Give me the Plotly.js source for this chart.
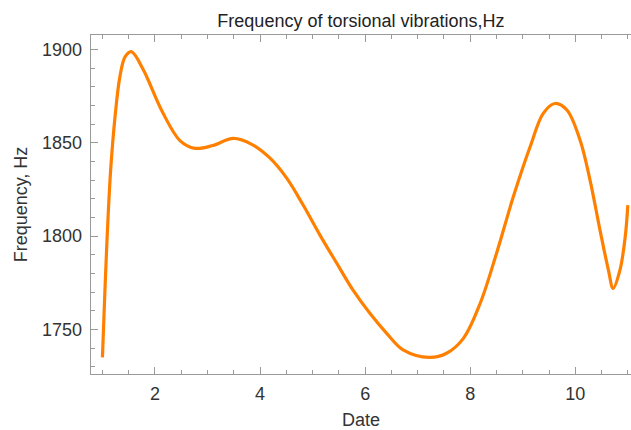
<!DOCTYPE html>
<html>
<head>
<meta charset="utf-8">
<script src="https://cdn.plot.ly/plotly-3.0.1.min.js"></script>
<style>html,body{margin:0;padding:0;background:#fff;}#chart{width:631px;height:430px;}</style>
</head>
<body>
<div id="chart"></div>
<script>
const dateValues = [1.0, 1.03, 1.06, 1.11, 1.16, 1.24, 1.33, 1.43, 1.55, 1.78, 1.87, 2.15, 2.48, 2.76, 3.1, 3.49, 3.85, 4.19, 4.51, 4.82, 5.14, 5.46, 5.77, 6.09, 6.41, 6.73, 7.22, 7.55, 7.87, 8.19, 8.5, 8.82, 9.14, 9.39, 9.61, 9.84, 10.09, 10.28, 10.47, 10.63, 10.72, 10.85, 10.95, 11.0];
const frequencyValues = [1735, 1758, 1780, 1812, 1837, 1864, 1885, 1896, 1898.8, 1889, 1883.6, 1866, 1851, 1847, 1848.5, 1852.3, 1849, 1841.7, 1830.9, 1816.6, 1800.5, 1785.4, 1771, 1758.6, 1747.9, 1738.9, 1735, 1737.2, 1745.2, 1764, 1790.7, 1821, 1847.8, 1865.7, 1871, 1867.5, 1851.4, 1830, 1803.2, 1781.8, 1772, 1781.8, 1799.6, 1816.6];
const xTickValues = [2, 4, 6, 8, 10];
const yTickValues = [1750, 1800, 1850, 1900];
const chartTitle = "Frequency of torsional vibrations,Hz";
const xTitle = "Date";
const yTitle = "Frequency, Hz";

const frameColor = "#9a9a9a";
const textColor = "#333333";
const font = "Liberation Sans, Arial, sans-serif";

const trace = {
  x: dateValues,
  y: frequencyValues,
  type: "scatter",
  mode: "lines",
  line: {color: "#ff8000", width: 3.2, shape: "spline", smoothing: 1},
  hoverinfo: "x+y"
};

const layout = {
  width: 631,
  height: 430,
  margin: {l: 91, r: 0, t: 35, b: 56},
  paper_bgcolor: "#ffffff",
  plot_bgcolor: "#ffffff",
  showlegend: false,
  font: {family: font, size: 18, color: textColor},
  title: {text: chartTitle, font: {family: font, size: 18, color: "#222"}, x: 0.572, xanchor: "center", y: 0.951, yanchor: "middle"},
  xaxis: {
    range: [0.782, 11.06],
    tickvals: xTickValues,
    ticks: "inside",
    ticklen: 7,
    tickwidth: 1,
    tickcolor: frameColor,
    showline: true,
    linecolor: frameColor,
    linewidth: 1.3,
    mirror: "ticks",
    showgrid: false,
    zeroline: false,
    ticklabelstandoff: 3,
    minor: {dtick: 0.5, tick0: 0, ticks: "inside", ticklen: 4, tickcolor: frameColor, showgrid: false},
    tickfont: {family: font, size: 18, color: textColor},
    title: {text: xTitle, font: {family: font, size: 18, color: textColor}, standoff: 14},
    automargin: false
  },
  yaxis: {
    range: [1726.1, 1907.7],
    tickvals: yTickValues,
    ticks: "inside",
    ticklen: 7,
    tickwidth: 1,
    tickcolor: frameColor,
    showline: true,
    linecolor: frameColor,
    linewidth: 1.3,
    mirror: false,
    showgrid: false,
    zeroline: false,
    ticklabelstandoff: 4,
    minor: {dtick: 10, tick0: 1700, ticks: "inside", ticklen: 4, tickcolor: frameColor, showgrid: false},
    tickfont: {family: font, size: 18, color: textColor},
    title: {text: yTitle, font: {family: font, size: 18, color: textColor}, standoff: 9},
    automargin: false
  }
};

Plotly.newPlot("chart", [trace], layout, {displayModeBar: false, staticPlot: true});
</script>
</body>
</html>
